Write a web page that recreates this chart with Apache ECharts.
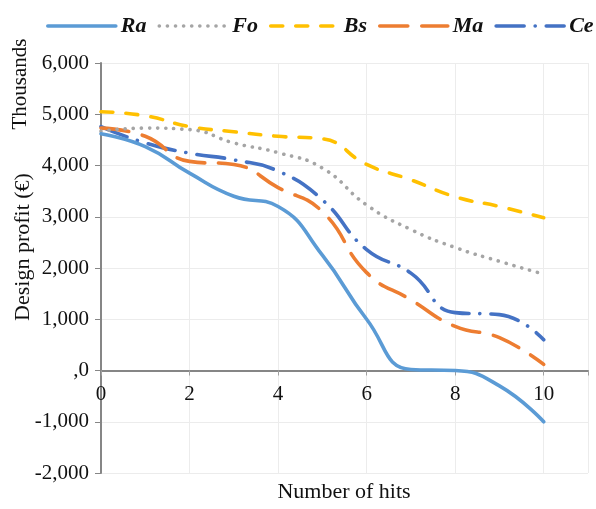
<!DOCTYPE html>
<html>
<head>
<meta charset="utf-8">
<script src="https://cdn.jsdelivr.net/npm/echarts@6/dist/echarts.min.js"></script>
<style>
html,body{margin:0;padding:0;background:#fff;}
#chart{width:596px;height:509px;}
</style>
</head>
<body>
<div id="chart"></div>
<script>
var hits = [0, 1, 2, 3, 4, 5, 6, 7, 8, 9, 10];
var seriesNames = ['Ra', 'Fo', 'Bs', 'Ma', 'Ce'];
var ra = [4620, 4370, 3850, 3400, 3200, 2250, 1000, 20, 0, -300, -1000];
var fo = [4670, 4730, 4700, 4440, 4250, 3950, 3230, 2750, 2400, 2130, 1880];
var bs = [5050, 4970, 4760, 4660, 4570, 4520, 4020, 3720, 3390, 3200, 2980];
var ma = [4730, 4570, 4080, 4020, 3570, 3100, 1910, 1380, 860, 640, 120];
var ce = [4760, 4440, 4240, 4110, 3890, 3330, 2360, 1900, 1130, 1090, 600];
var yTicks = [-2000, -1000, 0, 1000, 2000, 3000, 4000, 5000, 6000];
var xTicks = [0, 2, 4, 6, 8, 10];

var FONT = '"Liberation Serif", "Times New Roman", serif';

function pairs(vals) {
  return hits.map(function (h, i) { return [h, vals[i]]; });
}
function fmtY(v) {
  if (v === 0) return ',0';
  var s = Math.abs(v).toString().replace(/\B(?=(\d{3})+(?!\d))/g, ',');
  return (v < 0 ? '-' : '') + s;
}

var styles = [
  { color: '#5B9BD5', type: 'solid', cap: 'round' },
  { color: '#A5A5A5', type: [0.1, 8], cap: 'round' },
  { color: '#FFC000', type: [12, 13], cap: 'round' },
  { color: '#ED7D31', type: [28, 14], cap: 'round' },
  { color: '#4472C4', type: [28, 11, 0.1, 11], cap: 'round' }
];
var datas = [ra, fo, bs, ma, ce];

var series = seriesNames.map(function (n, i) {
  return {
    name: n,
    type: 'line',
    data: pairs(datas[i]),
    smooth: 0.5,
    showSymbol: false,
    symbol: 'none',
    z: 10 - i,
    itemStyle: { color: styles[i].color },
    lineStyle: { color: styles[i].color, width: 3.6, type: styles[i].type, cap: styles[i].cap, join: 'round' }
  };
});

var gridTop = 63, gridBottom = 36, H = 509;
var gridH = H - gridTop - gridBottom;
var zeroOffset = gridH * (0 - (-2000)) / 8000;

var chart = echarts.init(document.getElementById('chart'), null, { renderer: 'canvas' });
chart.setOption({
  animation: false,
  backgroundColor: '#fff',
  legend: {
    data: seriesNames,
    left: 41,
    top: 10,
    width: 600,
    itemWidth: 68,
    itemHeight: 14,
    itemGap: 11,
    itemStyle: { opacity: 0 },
    lineStyle: { width: 3.6 },
    textStyle: { fontFamily: FONT, fontSize: 22, fontWeight: 'bold', fontStyle: 'italic', color: '#111' }
  },
  grid: { left: 101, right: 8, top: gridTop, bottom: gridBottom, containLabel: false },
  xAxis: {
    type: 'value',
    min: 0,
    max: 11,
    interval: 2,
    offset: -zeroOffset,
    axisLine: { onZero: false, lineStyle: { color: '#868686', width: 2 } },
    axisTick: { show: true, length: 5, inside: false, lineStyle: { color: '#a0a0a0', width: 1 } },
    axisLabel: {
      fontFamily: FONT, fontSize: 21, color: '#111', margin: 13,
      formatter: function (v) { return xTicks.indexOf(v) >= 0 ? String(v) : ''; }
    },
    splitLine: { show: true, lineStyle: { color: '#ececec', width: 1 } }
  },
  yAxis: {
    type: 'value',
    min: -2000,
    max: 6000,
    interval: 1000,
    axisLine: { show: true, lineStyle: { color: '#868686', width: 2 } },
    axisTick: { show: true, length: 6, lineStyle: { color: '#868686', width: 1 } },
    axisLabel: {
      fontFamily: FONT, fontSize: 21, color: '#111', margin: 12,
      formatter: function (v) { return yTicks.indexOf(v) >= 0 ? fmtY(v) : ''; }
    },
    splitLine: { show: true, lineStyle: { color: '#ececec', width: 1 } }
  },
  graphic: [
    {
      type: 'text', x: 20, y: 84, rotation: Math.PI / 2,
      style: { text: 'Thousands', fontFamily: FONT, fontSize: 21, fill: '#111', align: 'center', verticalAlign: 'middle' }
    },
    {
      type: 'text', x: 23, y: 247, rotation: Math.PI / 2,
      style: { text: 'Design profit (€)', fontFamily: FONT, fontSize: 22, fill: '#111', align: 'center', verticalAlign: 'middle' }
    },
    {
      type: 'text', x: 344, y: 492,
      style: { text: 'Number of hits', fontFamily: FONT, fontSize: 22, fill: '#111', align: 'center', verticalAlign: 'middle' }
    }
  ],
  series: series
});
</script>
</body>
</html>
